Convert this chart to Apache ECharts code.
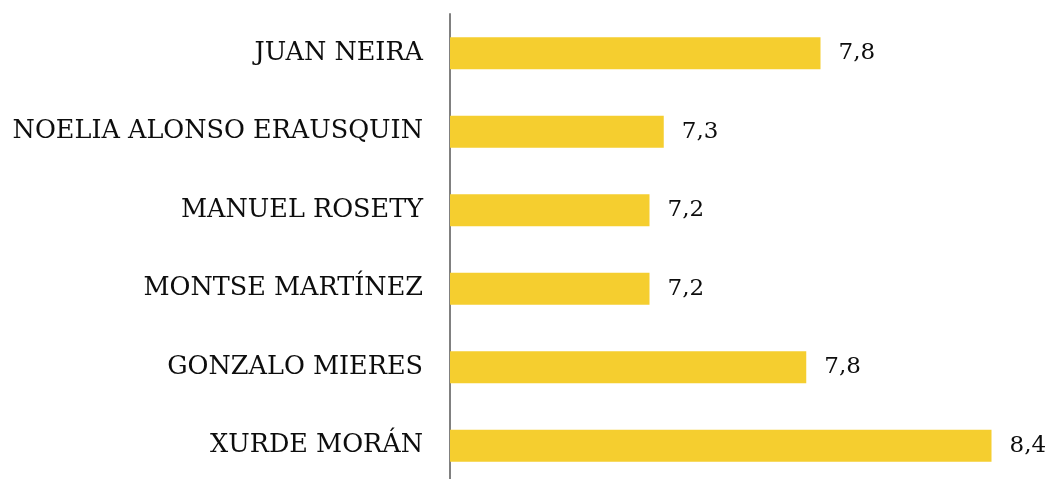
<!DOCTYPE html>
<html>
<head>
<meta charset="utf-8">
<script src="https://cdn.jsdelivr.net/npm/echarts@6/dist/echarts.min.js"></script>
<style>
    html, body { margin: 0; padding: 0; background: #fff; overflow: hidden; }
    #chart { width: 1047px; height: 479px; }
</style>
</head>
<body>
<div id="chart"></div>
<script>
    var names = ['JUAN NEIRA', 'NOELIA ALONSO ERAUSQUIN', 'MANUEL ROSETY', 'MONTSE MARTÍNEZ', 'GONZALO MIERES', 'XURDE MORÁN'];
    var notas = [7.8, 7.25, 7.2, 7.2, 7.75, 8.4];

    var font = '"DejaVu Serif", serif';

    var myChart = echarts.init(document.getElementById('chart'));
    var option = {
        animation: false,
        grid: {
            left: 450,
            top: 14,
            width: 570,
            height: 471,
            outerBoundsMode: 'none'
        },
        xAxis: {
            type: 'value',
            min: 6.5,
            max: 8.5,
            show: false
        },
        yAxis: {
            type: 'category',
            data: names,
            inverse: true,
            axisLine: {
                show: true,
                lineStyle: {color: '#808080', width: 2}
            },
            axisTick: {show: false},
            axisLabel: {
                margin: 27,
                color: '#0d0d0d',
                fontFamily: font,
                fontSize: 25.5
            }
        },
        series: [
            {
                type: 'bar',
                data: notas,
                barCategoryGap: '59%',
                itemStyle: {color: '#f5ce2f'},
                label: {
                    show: true,
                    position: 'right',
                    distance: 18,
                    color: '#0d0d0d',
                    fontFamily: font,
                    fontSize: 23,
                    formatter: function (p) {
                        return p.value.toFixed(1).replace('.', ',');
                    }
                }
            }
        ]
    };
    myChart.setOption(option);
</script>
</body>
</html>
